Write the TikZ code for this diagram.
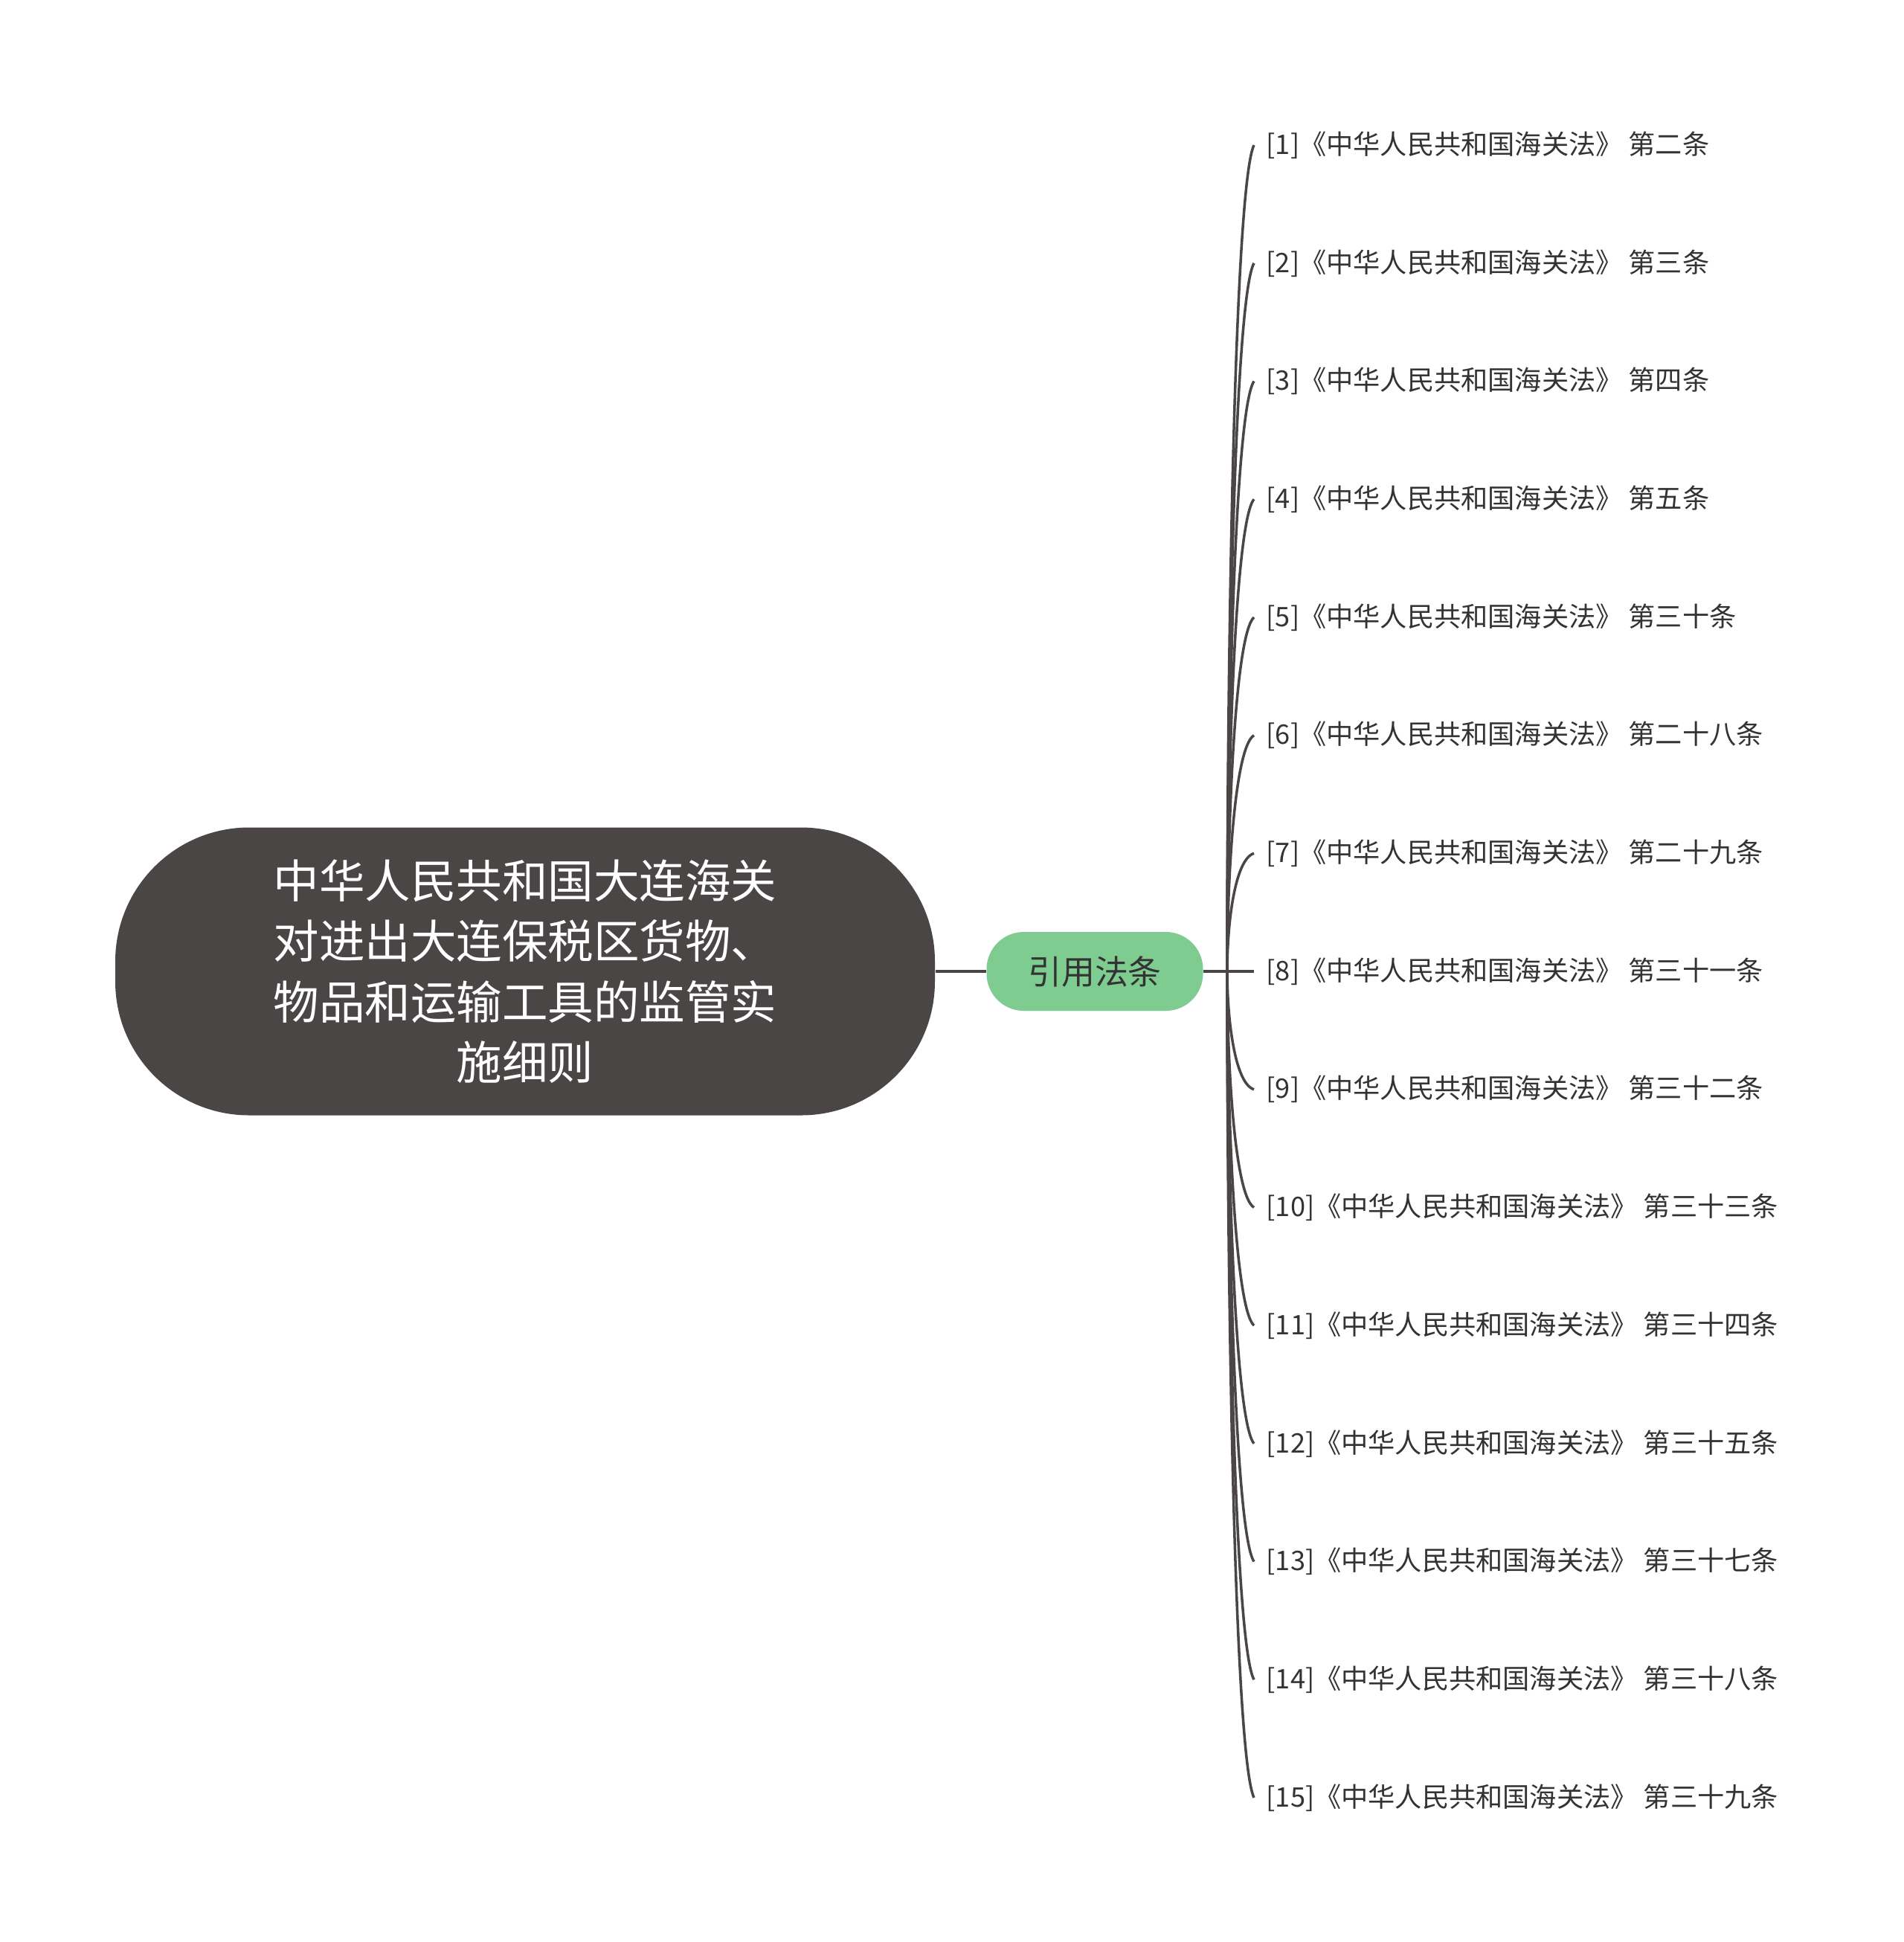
\documentclass[tikz,border=0pt]{standalone}
\usepackage{fontspec}
\usepackage{tikz}
\usetikzlibrary{positioning}
\newfontfamily\cjk{Noto Sans CJK SC}
\definecolor{rootgray}{HTML}{4A4646}
\definecolor{linegray}{HTML}{4A4646}
\definecolor{leafgreen}{HTML}{7ECC8F}
\definecolor{textgray}{HTML}{333333}

\tikzset{
  rootnode/.style={fill=rootgray, text=white, rounded corners=1.8cm,
    minimum width=11.02cm, minimum height=3.87cm, align=center,
    font=\cjk\fontsize{17.5}{23.2}\selectfont},
  topicnode/.style={fill=leafgreen, text=textgray, rounded corners=0.5cm,
    minimum width=2.91cm, minimum height=1.06cm,
    font=\cjk\fontsize{12.8}{15}\selectfont},
  leafnode/.style={anchor=west, text=textgray, inner xsep=0.16cm,
    font=\cjk\fontsize{10.3}{13}\selectfont},
  trunk/.style={linegray, line width=1.2pt},
  branch/.style={linegray, line width=1pt}
}

\begin{document}
\begin{tikzpicture}
    \fill[white] (0,0) rectangle (25.6,-26.11);

    % main topic and its one subtopic
    \node[rootnode] (root) at (7.06,-13.06) {中华人民共和国大连海关\\对进出大连保税区货物、\\物品和运输工具的监管实\\施细则};
    \node[topicnode] (cite) at (14.72,-13.06) {引用法条};
    \coordinate (hub) at (16.5,-13.06);

    \draw[trunk] (root.east) -- (cite.west);
    \draw[trunk] (cite.east) -- (hub);

    % cited articles
    \foreach \i/\art in {1/第二条, 2/第三条, 3/第四条, 4/第五条, 5/第三十条,
        6/第二十八条, 7/第二十九条, 8/第三十一条, 9/第三十二条, 10/第三十三条,
        11/第三十四条, 12/第三十五条, 13/第三十七条, 14/第三十八条, 15/第三十九条}{
      \pgfmathsetmacro\y{-13.06+(8-\i)*1.587}
      \node[leafnode] (c\i) at (16.86,\y) {[\i]《中华人民共和国海关法》 \art};
      \draw[branch] (hub) .. controls (16.5,{-13.06+0.4*(\y+13.06)}) and (16.6,{-13.06+0.95*(\y+13.06)}) .. (c\i.west);
    }
\end{tikzpicture}
\end{document}
